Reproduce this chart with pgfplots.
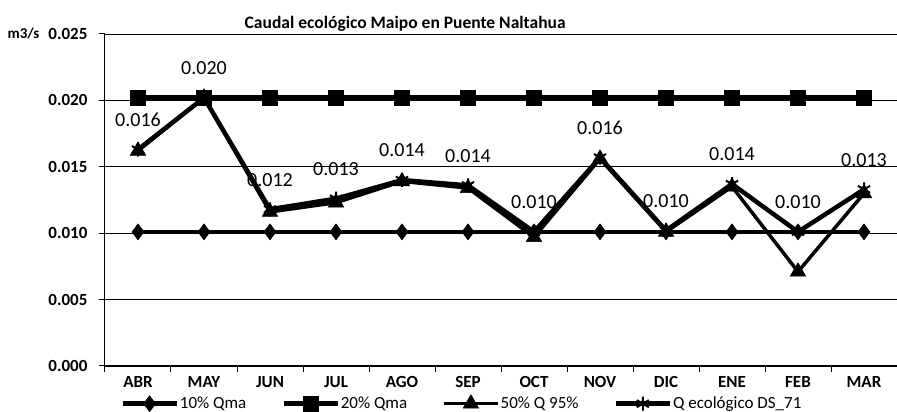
\documentclass[border=0pt]{standalone}
\usepackage{fontspec}
\setmainfont{Carlito}
\usepackage{pgfplots}
\pgfplotsset{compat=1.18}

\pgfplotstableread{
x  qa      qb      qc      qd
0  0.0101  0.0202  0.0162  0.0163
1  0.0101  0.0202  0.0202  0.0202
2  0.0101  0.0202  0.0116  0.0118
3  0.0101  0.0202  0.0123  0.0126
4  0.0101  0.0202  0.0139  0.0140
5  0.0101  0.0202  0.0134  0.0136
6  0.0101  0.0202  0.0097  0.0101
7  0.0101  0.0202  0.0156  0.0157
8  0.0101  0.0202  0.0101  0.0102
9  0.0101  0.0202  0.0135  0.0137
10 0.0101  0.0202  0.0071  0.0101
11 0.0101  0.0202  0.0130  0.0133
}\caudal

\begin{document}
\begin{tikzpicture}
\useasboundingbox (-105pt,-46pt) rectangle (792pt,366pt);
\begin{axis}[
    at={(0pt,0pt)}, anchor=south west,
    scale only axis, width=792pt, height=332pt,
    xmin=-0.5, xmax=11.5, ymin=0, ymax=0.025,
    clip=false,
    axis x line*=bottom, axis y line*=left,
    axis line style={black, line width=1pt},
    xtick={0,...,11},
    xticklabels={ABR,MAY,JUN,JUL,AGO,SEP,OCT,NOV,DIC,ENE,FEB,MAR},
    minor xtick={-0.5,0.5,1.5,2.5,3.5,4.5,5.5,6.5,7.5,8.5,9.5,10.5,11.5},
    major x tick style={draw=none},
    ytick={0,0.005,0.01,0.015,0.02,0.025},
    scaled y ticks=false,
    tick align=outside, major tick length=6pt, minor tick length=6pt,
    tick style={black, line width=1pt},
    ymajorgrids, grid style={black, line width=0.9pt},
    /pgf/number format/fixed,
    /pgf/number format/fixed zerofill,
    /pgf/number format/precision=3,
    /pgf/number format/assume math mode=true,
    tick label style={font=\bfseries\fontsize{17}{20}\selectfont},
    yticklabel style={xshift=-8pt},
    xticklabel style={yshift=-3pt, inner sep=1pt},
    legend style={at={(0.45,-0.112)}, anchor=center, draw=none, fill=none,
        legend columns=4, font=\fontsize{17}{18}\selectfont,
        /tikz/every even column/.append style={column sep=34pt},
        nodes={inner sep=1pt},
        inner sep=0pt},
    legend image code/.code={\draw[mark repeat=2,mark phase=2] plot coordinates {(0pt,0pt) (27pt,0pt) (54pt,0pt)};},
  ]
  \addplot[black, line width=4.5pt, mark=diamond*, mark size=8pt, mark options={solid, line width=0.5pt}] table[x=x, y=qa] {\caudal};
  \addplot[black, line width=4.5pt, mark=square*, mark size=7.5pt, mark options={solid, line width=0.5pt}] table[x=x, y=qb] {\caudal};
  \addplot[black, line width=3.5pt, mark=triangle*, mark size=9pt, mark options={solid, line width=0.5pt}] table[x=x, y=qc] {\caudal};
  \addplot[black, line width=4.5pt, mark=asterisk, mark size=7pt, mark options={solid, line width=2pt},
      nodes near coords,
      every node near coord/.append style={font=\fontsize{20}{22}\selectfont, anchor=south, inner sep=0pt, yshift=22pt}]
      table[x=x, y=qd] {\caudal};
  \legend{10\% Qma, 20\% Qma, 50\%  Q 95\%, Q ecológico DS\_71}
  \node[font=\bfseries\fontsize{17.5}{20}\selectfont, anchor=base, yshift=5pt] at (rel axis cs:0.379,1) {Caudal ecológico Maipo en Puente Naltahua};
  \node[font=\bfseries\fontsize{15}{18}\selectfont, anchor=east, xshift=-62pt] at (rel axis cs:0,1) {m3/s};
\end{axis}
\end{tikzpicture}
\end{document}
